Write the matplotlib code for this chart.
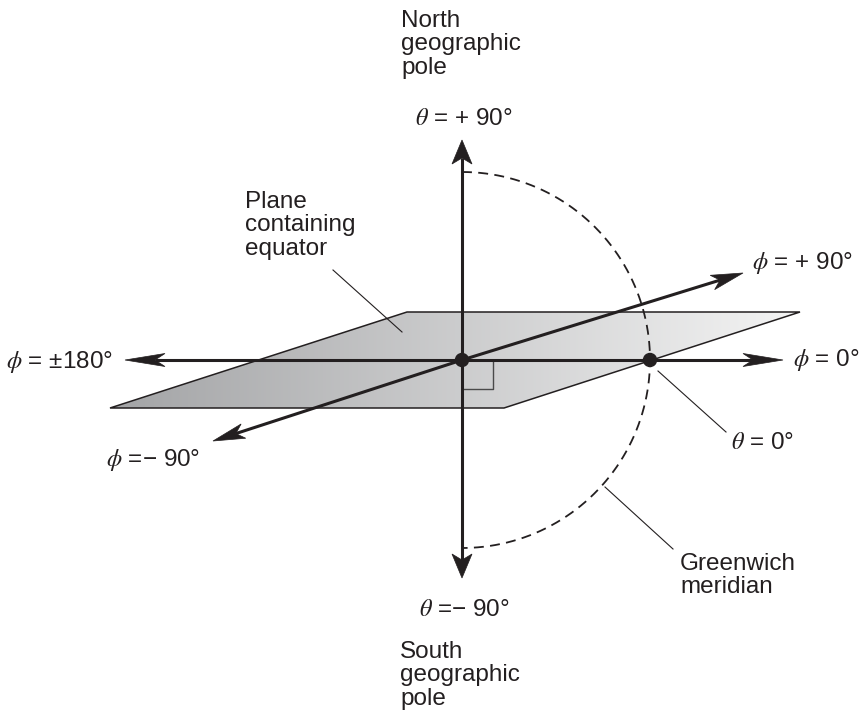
"""
Spherical coordinate diagram: equatorial plane, polar axis, Greenwich meridian.
"""
import matplotlib
matplotlib.use("Agg")
import matplotlib.pyplot as plt
import matplotlib.patches as mpatches
import numpy as np

plt.rcParams["font.family"] = ["Liberation Sans", "DejaVu Sans"]
plt.rcParams["mathtext.fontset"] = "stix"

# ── Geometry (pixel units, y pointing down) ──────────────────────────────────
CENTER = (462, 360)
PRIME_POINT = (650, 360)
ARC_RADIUS = 188

PLANE_X = [110, 504, 800, 407]
PLANE_Y = [408, 408, 312, 312]

# arrows: (tail, tip, head length, head half-width)
ARROWS = [
    ((462, 360), (462, 140), 24, 10),    # θ = +90°
    ((462, 360), (462, 578), 24, 10),    # θ = −90°
    ((462, 360), (125, 360), 40, 6.5),   # φ = ±180°
    ((462, 360), (783, 360), 40, 6.5),   # φ = 0°
    ((462, 360), (743, 273), 32, 7.5),   # φ = +90°
    ((462, 360), (213, 441), 32, 7.5),   # φ = −90°
]

LEADERS = [
    ((333, 270), (402, 332)),   # plane
    ((658, 371), (726, 432)),   # θ = 0°
    ((605, 487), (673, 549)),   # Greenwich
]

RIGHT_ANGLE_X = [493, 493, 462]
RIGHT_ANGLE_Y = [360, 389, 389]

# labels: (text, x, y)
BLOCK_LABELS = [
    ("North\ngeographic\npole", 401, 10),
    ("Plane\ncontaining\nequator", 245, 191),
    ("South\ngeographic\npole", 400, 641),
    ("Greenwich\nmeridian", 680, 553),
]
MATH_LABELS = [
    (r"$\theta$ = + 90°", 464, 119, "center"),
    (r"$\theta$ =− 90°", 464, 610, "center"),
    (r"$\phi$ = + 90°", 752, 263, "left"),
    (r"$\phi$ = ±180°", 6, 362, "left"),
    (r"$\phi$ = 0°", 793, 360, "left"),
    (r"$\phi$ =− 90°", 106, 460, "left"),
    (r"$\theta$ = 0°", 731, 443, "left"),
]

INK = "#231f20"
FS = 17.5
FS_MATH = 17.5

fig = plt.figure(figsize=(8.59, 7.13), dpi=100)
ax = fig.add_axes([0, 0, 1, 1])

# ── Equatorial plane with gradient fill ──────────────────────────────────────
poly = mpatches.Polygon(np.column_stack([PLANE_X, PLANE_Y]), closed=True,
                        facecolor="none", edgecolor=INK, linewidth=1.1, zorder=2)
ax.add_patch(poly)
grad = np.linspace(0, 1, 256).reshape(1, -1)
cmap = matplotlib.colors.LinearSegmentedColormap.from_list("plane", ["#a3a4a6", "#f4f4f4"])
img = ax.imshow(grad, cmap=cmap, aspect="auto", zorder=1,
                extent=(min(PLANE_X), max(PLANE_X), max(PLANE_Y), min(PLANE_Y)))
img.set_clip_path(poly)
ax.set_xlim(0, 859)
ax.set_ylim(713, 0)
ax.axis("off")

# ── Right angle marker ───────────────────────────────────────────────────────
ax.plot(RIGHT_ANGLE_X, RIGHT_ANGLE_Y, color="#4a4a4a", linewidth=1.0, zorder=3)

# ── Greenwich meridian (dashed half circle) ──────────────────────────────────
t = np.linspace(-np.pi / 2, np.pi / 2, 300)
ax.plot(CENTER[0] + ARC_RADIUS * np.cos(t), CENTER[1] + ARC_RADIUS * np.sin(t),
        color=INK, linewidth=1.3, linestyle=(0, (5.5, 3.5)), zorder=3)


def draw_arrow(tail, tip, length, half_w, notch=0.25):
    tail = np.asarray(tail, float)
    tip = np.asarray(tip, float)
    d = (tip - tail) / np.hypot(*(tip - tail))
    perp = np.array([-d[1], d[0]])
    base = tip - length * d
    neck = tip - (1 - notch) * length * d
    ax.plot([tail[0], neck[0]], [tail[1], neck[1]], color=INK, linewidth=2.2,
            solid_capstyle="butt", zorder=4)
    head = [tip, base + half_w * perp, neck, base - half_w * perp]
    ax.add_patch(mpatches.Polygon(head, closed=True, facecolor=INK,
                                  edgecolor=INK, linewidth=0.5, zorder=5))


for tail, tip, hl, hw in ARROWS:
    draw_arrow(tail, tip, hl, hw)

for p in (CENTER, PRIME_POINT):
    ax.add_patch(mpatches.Circle(p, 6.5, color=INK, zorder=6))

for (x0, y0), (x1, y1) in LEADERS:
    ax.plot([x0, x1], [y0, y1], color=INK, linewidth=0.8, zorder=3)

# ── Labels ───────────────────────────────────────────────────────────────────
for txt, x, y in BLOCK_LABELS:
    ax.text(x, y, txt, fontsize=FS, color=INK, ha="left", va="top", linespacing=1.08)

for txt, x, y, ha in MATH_LABELS:
    ax.text(x, y, txt, fontsize=FS_MATH, color=INK, ha=ha, va="center")

fig.savefig("out.png", dpi=100, facecolor="white")
